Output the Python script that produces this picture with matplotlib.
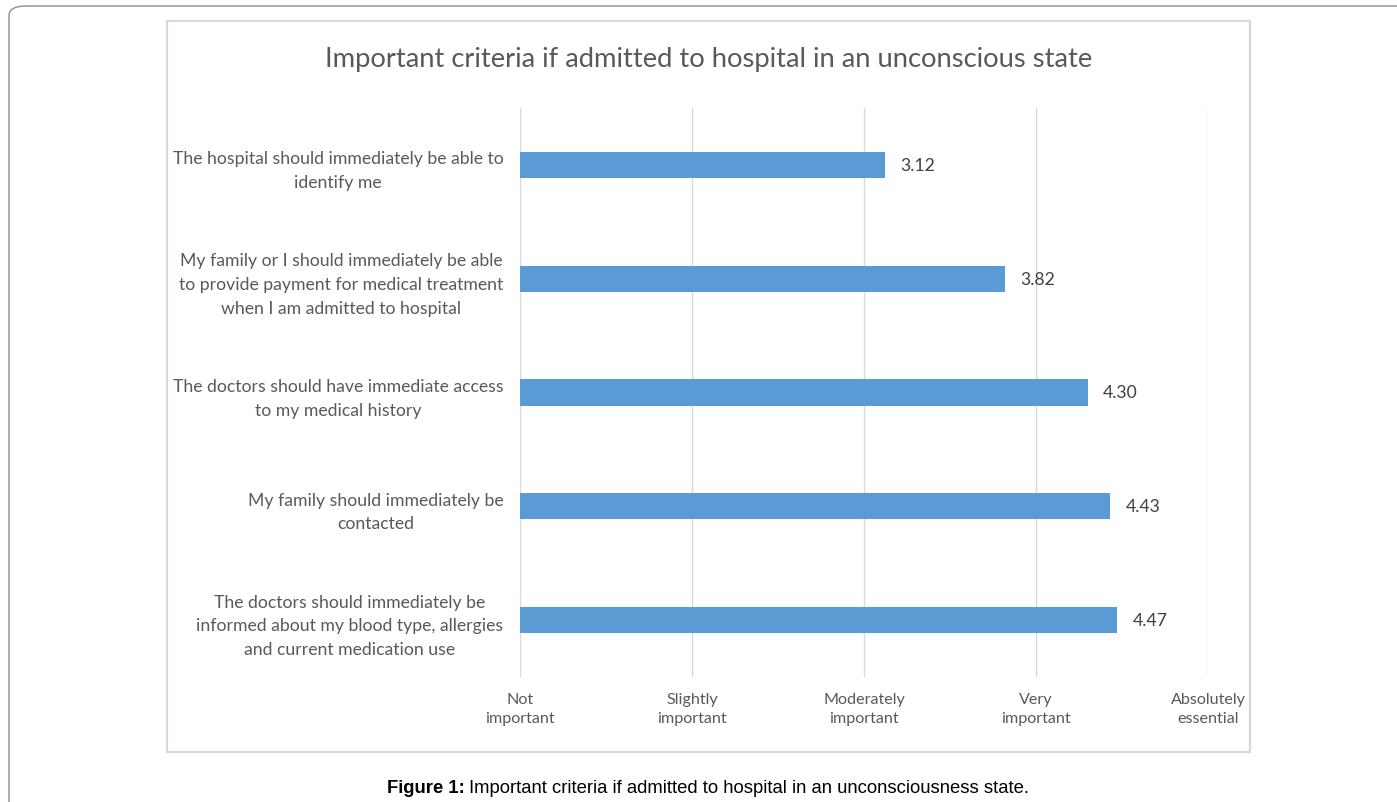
import matplotlib
matplotlib.use("Agg")
import matplotlib.pyplot as plt
from matplotlib.patches import Rectangle, FancyBboxPatch
import numpy as np

# data
criteria = [
    "The hospital should immediately be able to\nidentify me",
    "My family or I should immediately be able\nto provide payment for medical treatment\nwhen I am admitted to hospital",
    "The doctors should have immediate access\nto my medical history",
    "My family should immediately be\ncontacted",
    "The doctors should immediately be\ninformed about my blood type, allergies\nand current medication use",
]
scores = [3.12, 3.82, 4.30, 4.43, 4.47]
scale_ticks = [1, 2, 3, 4, 5]
scale_labels = ["Not\nimportant", "Slightly\nimportant", "Moderately\nimportant",
                "Very\nimportant", "Absolutely\nessential"]

W, H = 1397, 803
fig = plt.figure(figsize=(W / 100, H / 100), dpi=100)
plt.rcParams['font.family'] = ['Lato', 'DejaVu Sans']

def fx(px):
    return px / W

def fy(py):
    return 1 - py / H

# outer frame (rounded, runs off page at right and bottom)
frame = FancyBboxPatch((fx(9), fy(830)), fx(1420) - fx(9), fy(7) - fy(830),
                       boxstyle="round,pad=0,rounding_size=0.012",
                       transform=fig.transFigure, fill=False,
                       ec='#8c8c8c', lw=1.0, clip_on=False)
fig.patches.append(frame)

# chart box
box = Rectangle((fx(167), fy(753)), fx(1250) - fx(167), fy(22) - fy(753),
                transform=fig.transFigure, fill=False, ec='#d9d9d9', lw=1.6)
fig.patches.append(box)

ax = fig.add_axes([fx(520), fy(678), fx(1208) - fx(520), fy(109) - fy(678)])
ypos = np.arange(len(criteria))
ax.barh(ypos, [s - 1 for s in scores], left=1, height=0.23, color='#5b9bd5', zorder=3)
ax.set_xlim(1, 5)
ax.set_ylim(len(criteria) - 0.5, -0.5)

ax.set_xticks(scale_ticks)
ax.set_xticklabels(scale_labels, fontsize=11.6, color='#595959', linespacing=1.45)
ax.set_yticks(ypos)
ax.set_yticklabels(criteria, fontsize=12.7, color='#595959', linespacing=1.58,
                   multialignment='center')
ax.tick_params(axis='both', length=0)
ax.tick_params(axis='x', pad=11)
ax.tick_params(axis='y', pad=12)
ax.grid(axis='x', color='#d9d9d9', lw=1.0, zorder=0)
for s in ax.spines.values():
    s.set_visible(False)

for y, s in zip(ypos, scores):
    ax.text(s + 0.09, y, '{:.2f}'.format(s), va='center', ha='left',
            fontsize=12.7, color='#404040')

fig.text(fx(709), fy(59), 'Important criteria if admitted to hospital in an unconscious state',
         ha='center', va='center', fontsize=19.7, color='#595959')

# caption, centred as one line: bold prefix + plain text
cap1 = fig.text(0, fy(789), 'Figure 1:', ha='left', va='center',
                fontsize=13.3, fontweight='bold', family='Liberation Sans', color='black')
cap2 = fig.text(0, fy(789), 'Important criteria if admitted to hospital in an unconsciousness state.',
                ha='left', va='center', fontsize=13.3, family='Liberation Sans', color='black')
fig.canvas.draw()
w1 = cap1.get_window_extent().width
w2 = cap2.get_window_extent().width
gap = 5
x0 = 708 - (w1 + gap + w2) / 2
cap1.set_x(fx(x0))
cap2.set_x(fx(x0 + w1 + gap))

fig.savefig('out.png', dpi=100)
